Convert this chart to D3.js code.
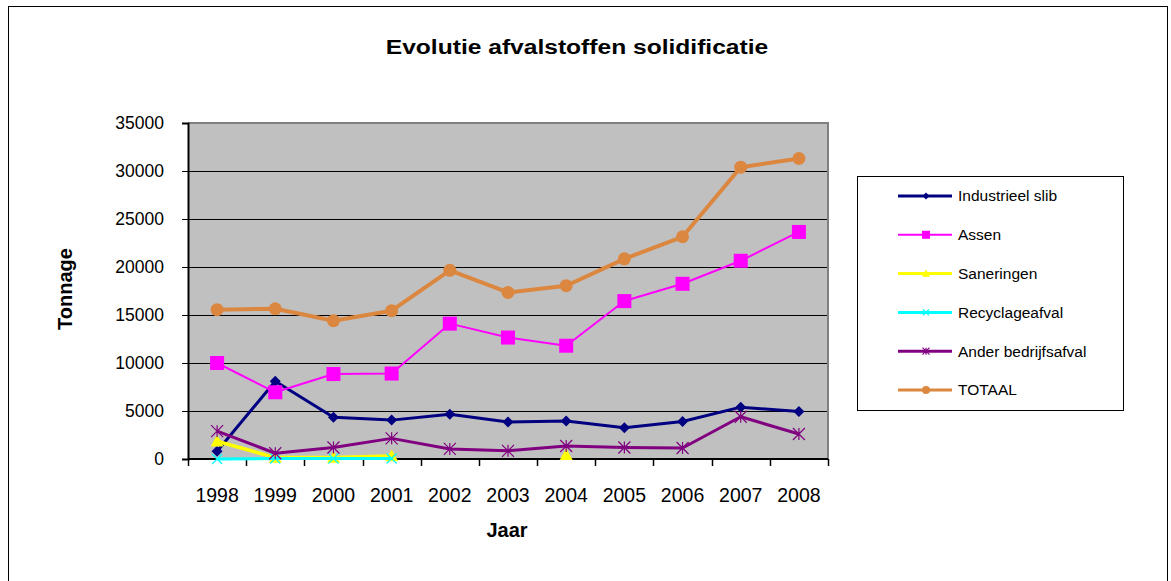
<!DOCTYPE html>
<html>
<head>
<meta charset="utf-8">
<script src="https://cdn.jsdelivr.net/npm/d3@7"></script>
<style>
  html, body { margin: 0; padding: 0; background: #fff; }
  svg text { font-family: Arial, "Liberation Sans", sans-serif; fill: #000; }
</style>
</head>
<body>
<div id="chart"></div>
<script>
// ---- data ----
const years = ["1998", "1999", "2000", "2001", "2002", "2003", "2004", "2005", "2006", "2007", "2008"];
const yTicks = [0, 5000, 10000, 15000, 20000, 25000, 30000, 35000];

const industrieelSlib   = [800, 8100, 4350, 4050, 4650, 3850, 3950, 3250, 3900, 5400, 4950];
const assen             = [10000, 6950, 8850, 8900, 14100, 12650, 11800, 16450, 18250, 20650, 23650];
const saneringen        = [1850, 150, 150, 300, null, null, 450, null, null, null, null];
const recyclageafval    = [0, 50, 50, 50, null, null, null, null, null, null, null];
const anderBedrijfsafval = [2900, 600, 1200, 2150, 1050, 850, 1350, 1200, 1150, 4400, 2600];
const totaal            = [15550, 15650, 14400, 15450, 19650, 17350, 18050, 20850, 23150, 30400, 31300];

const seriesNames = ["Industrieel slib", "Assen", "Saneringen", "Recyclageafval", "Ander bedrijfsafval", "TOTAAL"];
const seriesValues = [industrieelSlib, assen, saneringen, recyclageafval, anderBedrijfsafval, totaal];

// ---- styles ----
const styles = [
  { color: "#000080", width: 3,   marker: "diamond",  size: 11 },
  { color: "#ff00ff", width: 2,   marker: "square",   size: 14 },
  { color: "#ffff00", width: 3.5, marker: "triangle", size: 13 },
  { color: "#00ffff", width: 3,   marker: "cross",    size: 10 },
  { color: "#800080", width: 3,   marker: "star",     size: 12 },
  { color: "#dc8740", width: 4,   marker: "circle",   size: 13 }
];

const W = 1171, H = 581;
const plot = { x0: 188, x1: 828, y0: 123, y1: 459 };

const svg = d3.select("#chart").append("svg")
  .attr("width", W)
  .attr("height", H);

// outer chart border
svg.append("rect")
  .attr("x", 8.5).attr("y", 6.5)
  .attr("width", 1159).attr("height", 600)
  .attr("fill", "#fff")
  .attr("stroke", "#000")
  .attr("stroke-width", 1);

const x = d3.scaleBand().domain(years).range([plot.x0, plot.x1]);
const y = d3.scaleLinear().domain([0, 35000]).range([plot.y1, plot.y0]);

// plot area
svg.append("rect")
  .attr("x", plot.x0).attr("y", plot.y0)
  .attr("width", plot.x1 - plot.x0).attr("height", plot.y1 - plot.y0)
  .attr("fill", "#c0c0c0");

// gridlines
svg.append("g")
  .selectAll("line")
  .data(yTicks.filter(t => t > 0 && t < 35000))
  .join("line")
  .attr("x1", plot.x0).attr("x2", plot.x1)
  .attr("y1", d => Math.round(y(d)) + 0.5).attr("y2", d => Math.round(y(d)) + 0.5)
  .attr("stroke", "#000").attr("stroke-width", 1);

// plot border (top/right gray)
svg.append("path")
  .attr("d", `M${plot.x0},${plot.y0} H${plot.x1} V${plot.y1}`)
  .attr("fill", "none")
  .attr("stroke", "#808080")
  .attr("stroke-width", 2);

// y axis
const yAxis = svg.append("g")
  .attr("transform", `translate(${plot.x0},0)`)
  .call(d3.axisLeft(y).tickValues(yTicks).tickSize(6).tickPadding(18).tickFormat(d3.format("d")));
yAxis.select(".domain").attr("stroke", "#000").attr("stroke-width", 2);
yAxis.selectAll(".tick line").attr("stroke", "#000");
yAxis.selectAll("text").style("font-size", "17.5px").attr("fill", "#000");

// x axis: ticks between categories
const xAxisG = svg.append("g").attr("transform", `translate(0,${plot.y1})`);
xAxisG.append("line")
  .attr("x1", plot.x0).attr("x2", plot.x1)
  .attr("y1", 0).attr("y2", 0)
  .attr("stroke", "#000").attr("stroke-width", 2);
xAxisG.selectAll("line.tick")
  .data(d3.range(years.length + 1))
  .join("line")
  .attr("class", "tick")
  .attr("x1", i => Math.round(plot.x0 + i * x.bandwidth()) + 0.5)
  .attr("x2", i => Math.round(plot.x0 + i * x.bandwidth()) + 0.5)
  .attr("y1", 0).attr("y2", 7)
  .attr("stroke", "#000").attr("stroke-width", 1.5);
xAxisG.selectAll("text")
  .data(years)
  .join("text")
  .attr("x", d => x(d) + x.bandwidth() / 2)
  .attr("y", 43)
  .attr("text-anchor", "middle")
  .style("font-size", "19.5px")
  .text(d => d);

// titles (reference title is horizontally stretched)
svg.append("text")
  .attr("transform", "translate(577,54) scale(1.2,1)")
  .attr("text-anchor", "middle")
  .style("font-size", "20.5px").style("font-weight", "bold")
  .text("Evolutie afvalstoffen solidificatie");

svg.append("text")
  .attr("x", 507).attr("y", 537)
  .attr("text-anchor", "middle")
  .style("font-size", "20px").style("font-weight", "bold")
  .text("Jaar");

svg.append("text")
  .attr("transform", "translate(72,289) rotate(-90)")
  .attr("text-anchor", "middle")
  .style("font-size", "20px").style("font-weight", "bold")
  .text("Tonnage");

// marker drawing
function drawMarker(g, type, size, color) {
  const s = size / 2;
  if (type === "diamond") {
    g.append("path").attr("d", `M0,${-s} L${s},0 L0,${s} L${-s},0 Z`).attr("fill", color);
  } else if (type === "square") {
    g.append("rect").attr("x", -s).attr("y", -s).attr("width", size).attr("height", size).attr("fill", color);
  } else if (type === "triangle") {
    g.append("path").attr("d", `M0,${-s} L${s},${s * 0.8} L${-s},${s * 0.8} Z`).attr("fill", color);
  } else if (type === "circle") {
    g.append("circle").attr("r", s).attr("fill", color);
  } else if (type === "cross") {
    g.append("path").attr("d", `M${-s},${-s} L${s},${s} M${s},${-s} L${-s},${s}`)
      .attr("stroke", color).attr("stroke-width", 1.2).attr("fill", "none");
  } else if (type === "star") {
    g.append("path").attr("d", `M${-s},${-s} L${s},${s} M${s},${-s} L${-s},${s} M0,${-s} L0,${s}`)
      .attr("stroke", color).attr("stroke-width", 1.2).attr("fill", "none");
  }
}

// series
const line = d3.line()
  .defined(d => d.v !== null)
  .x(d => x(d.year) + x.bandwidth() / 2)
  .y(d => y(d.v));

seriesValues.forEach((vals, i) => {
  const st = styles[i];
  const pts = years.map((yr, j) => ({ year: yr, v: vals[j] }));
  const g = svg.append("g").attr("class", "series");
  g.append("path")
    .datum(pts)
    .attr("d", line)
    .attr("fill", "none")
    .attr("stroke", st.color)
    .attr("stroke-width", st.width)
    .attr("stroke-linejoin", "round");
  pts.filter(d => d.v !== null).forEach(d => {
    const m = g.append("g")
      .attr("transform", `translate(${x(d.year) + x.bandwidth() / 2},${y(d.v)})`);
    drawMarker(m, st.marker, st.size, st.color);
  });
});

// legend
const legend = svg.append("g");
legend.append("rect")
  .attr("x", 857.5).attr("y", 176.5)
  .attr("width", 266).attr("height", 234)
  .attr("fill", "#fff").attr("stroke", "#000").attr("stroke-width", 1);

const legendY = d3.scalePoint().domain(seriesNames).range([196, 390]);

seriesNames.forEach((name, i) => {
  const st = styles[i];
  const row = legend.append("g").attr("transform", `translate(0,${legendY(name)})`);
  row.append("line")
    .attr("x1", 898).attr("x2", 952)
    .attr("y1", 0).attr("y2", 0)
    .attr("stroke", st.color).attr("stroke-width", Math.min(st.width, 3));
  const m = row.append("g").attr("transform", "translate(926,0)");
  drawMarker(m, st.marker, Math.round(st.size * 0.6), st.color);
  row.append("text")
    .attr("x", 958).attr("y", 0)
    .attr("dy", "0.35em")
    .style("font-size", "15.5px")
    .text(name);
});
</script>
</body>
</html>
